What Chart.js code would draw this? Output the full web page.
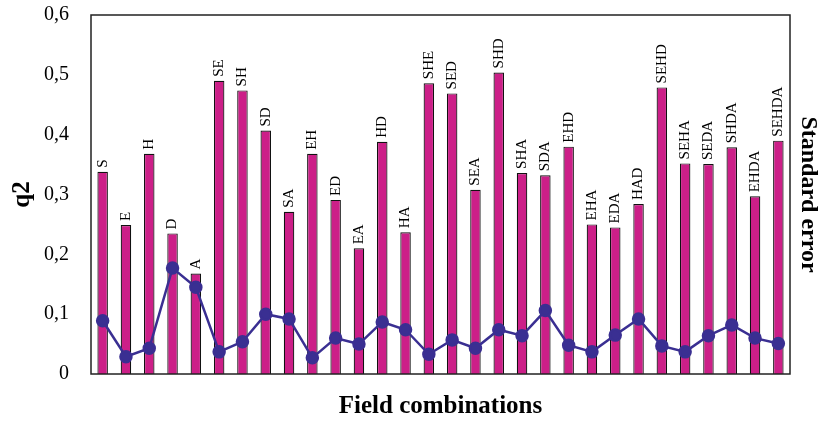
<!DOCTYPE html>
<html>
<head>
<meta charset="utf-8">
<script src="https://cdn.jsdelivr.net/npm/chart.js@4/dist/chart.umd.min.js"></script>
<style>
  html, body { margin: 0; padding: 0; background: #fff; }
  #wrap { width: 823px; height: 422px; }
</style>
</head>
<body>
<div id="wrap"><canvas id="chart"></canvas></div>
<script>
var combos = ["S", "E", "H", "D", "A", "SE", "SH", "SD", "SA", "EH", "ED", "EA", "HD", "HA",
  "SHE", "SED", "SEA", "SHD", "SHA", "SDA", "EHD", "EHA", "EDA", "HAD", "SEHD", "SEHA",
  "SEDA", "SHDA", "EHDA", "SEHDA"];
var q2 = [0.338, 0.249, 0.368, 0.235, 0.168, 0.490, 0.474, 0.407, 0.271, 0.368, 0.291, 0.210,
  0.388, 0.237, 0.486, 0.469, 0.308, 0.504, 0.336, 0.332, 0.380, 0.250, 0.245, 0.284, 0.479,
  0.352, 0.351, 0.379, 0.297, 0.390];
var stdError = [0.089, 0.029, 0.043, 0.177, 0.145, 0.037, 0.054, 0.100, 0.092, 0.027, 0.060,
  0.050, 0.087, 0.074, 0.033, 0.057, 0.043, 0.074, 0.064, 0.106, 0.048, 0.037, 0.065, 0.092,
  0.047, 0.037, 0.064, 0.082, 0.060, 0.051];

var serif = "'Liberation Serif', 'DejaVu Serif', serif";

// vertical name above each bar + frame round the plot
var barLabels = {
  id: "barLabels",
  afterDatasetsDraw: function (chart) {
    var ctx = chart.ctx;
    var meta = chart.getDatasetMeta(1);
    ctx.save();
    ctx.fillStyle = "#000";
    ctx.font = "15px " + serif;
    ctx.textAlign = "left";
    ctx.textBaseline = "middle";
    meta.data.forEach(function (bar, i) {
      ctx.save();
      ctx.translate(bar.x, bar.y - 4);
      ctx.rotate(-Math.PI / 2);
      ctx.fillText(combos[i], 0, 0);
      ctx.restore();
    });
    var a = chart.chartArea;
    ctx.strokeStyle = "#222";
    ctx.lineWidth = 1.5;
    ctx.strokeRect(a.left, a.top, a.right - a.left, a.bottom - a.top);
    ctx.restore();
  }
};

new Chart("chart", {
  type: "bar",
  data: {
    labels: combos,
    datasets: [
      {
        type: "line",
        label: "Standard error",
        data: stdError,
        borderColor: "#3A2F92",
        backgroundColor: "#3A2F92",
        borderWidth: 2.5,
        pointRadius: 5.5,
        pointHoverRadius: 5.5,
        tension: 0,
        order: 0,
      },
      {
        label: "q2",
        data: q2,
        backgroundColor: "#CC1F88",
        borderColor: "#111",
        borderWidth: 1.2,
        barPercentage: 0.45,
        categoryPercentage: 1,
        order: 1,
      },
    ],
  },
  options: {
    responsive: true,
    maintainAspectRatio: false,
    animation: false,
    layout: { padding: { top: 15, right: 0, bottom: 0, left: 0 } },
    plugins: {
      legend: { display: false },
      tooltip: { enabled: false },
    },
    scales: {
      x: {
        offset: true,
        grid: { display: false },
        border: { display: false },
        ticks: { display: false },
        title: {
          display: true,
          text: "Field combinations",
          font: { family: serif, size: 25, weight: "bold" },
          color: "#000",
          padding: { top: 23, bottom: 0 },
        },
        afterFit: function (s) { s.height = 48; },
      },
      y: {
        min: 0,
        max: 0.6,
        grid: { display: false },
        border: { display: false },
        ticks: {
          stepSize: 0.1,
          padding: 14,
          color: "#000",
          font: { family: serif, size: 20 },
          callback: function (v) {
            return v === 0 ? "0" : v.toFixed(1).replace(".", ",");
          },
        },
        title: {
          display: true,
          text: "q2",
          font: { family: serif, size: 25, weight: "bold" },
          color: "#000",
          padding: { top: 8, bottom: 0 },
        },
        afterFit: function (s) {
          s.width = 91;
          s.paddingTop = 0;
          s.paddingBottom = 0;
        },
      },
      y2: {
        position: "right",
        min: 0,
        max: 0.6,
        grid: { display: false },
        border: { display: false },
        ticks: { display: false },
        title: {
          display: true,
          text: "Standard error",
          font: { family: serif, size: 24, weight: "bold" },
          color: "#000",
          padding: { top: 0, bottom: 0 },
        },
        afterFit: function (s) {
          s.width = 33;
          s.paddingTop = 0;
          s.paddingBottom = 0;
        },
      },
    },
  },
  plugins: [barLabels],
});
</script>
</body>
</html>
